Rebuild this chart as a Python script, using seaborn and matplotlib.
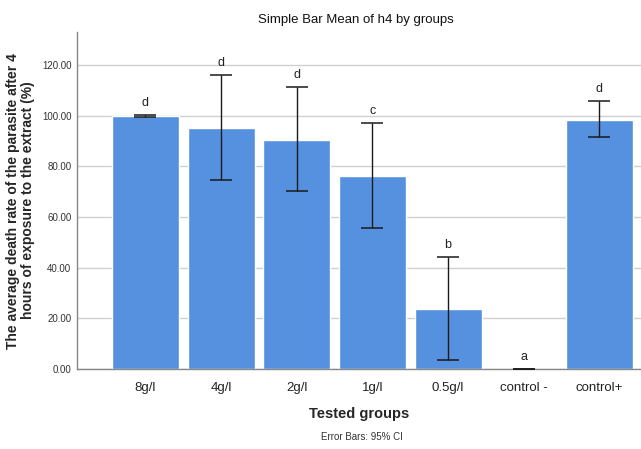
import matplotlib
matplotlib.use("Agg")
import matplotlib.pyplot as plt
import seaborn as sns
import numpy as np
import pandas as pd

groups = ["8g/l", "4g/l", "2g/l", "1g/l", "0.5g/l", "control -", "control+"]
means = [100.0, 95.3, 90.5, 76.2, 23.7, 0.0, 98.4]
ci_low = [99.6, 74.7, 70.3, 55.7, 3.6, 0.0, 91.5]
ci_high = [100.4, 116.2, 111.3, 97.0, 44.2, 0.0, 105.9]
letters = ["d", "d", "d", "c", "b", "a", "d"]
yticks = [0, 20, 40, 60, 80, 100, 120]

sns.set_theme(style="white")
plt.rcParams['font.family'] = ['Liberation Sans', 'DejaVu Sans']

df = pd.DataFrame({"group": groups, "mean": means})

fig = plt.figure(figsize=(6.41, 4.49), dpi=100)
ax = fig.add_axes([0.1201, 0.178, 0.8799, 0.7506])

for y in yticks:
    ax.axhline(y, color="#d0d0d0", lw=1.0, zorder=0)

sns.barplot(data=df, x="group", y="mean", color="#5591de", saturation=1,
            width=0.885, ax=ax, errorbar=None, zorder=2)

xs = np.arange(len(groups))
lo = np.array(means) - np.array(ci_low)
hi = np.array(ci_high) - np.array(means)
ax.errorbar(xs, means, yerr=[lo, hi], fmt="none", ecolor="#1a1a1a",
            elinewidth=1.0, capsize=8, capthick=1.1, zorder=3)
for x, y, t in zip(xs, ci_high, letters):
    ax.text(x, y + 2.4, t, ha="center", va="bottom", fontsize=9, color="#222222")

ax.set_xlim(-0.905, 6.55)
ax.set_ylim(0, 133)
ax.set_yticks(yticks)
ax.set_yticklabels([f"{v:.2f}" for v in yticks], fontsize=7, color="#333333")
ax.tick_params(axis="x", labelsize=9.5, colors="#222222", length=0, pad=9)
ax.tick_params(axis="y", length=0, pad=4)
for s in ["top", "right"]:
    ax.spines[s].set_visible(False)
for s in ["left", "bottom"]:
    ax.spines[s].set_color("#888888")
    ax.spines[s].set_linewidth(1.0)

ax.set_xlabel("Tested groups", fontsize=10.5, fontweight="bold", labelpad=10)
ax.set_ylabel("The average death rate of the parasite after 4\nhours of exposure to the extract (%)",
              fontsize=10, fontweight="bold", labelpad=5, linespacing=1.1)
fig.text(0.555, 0.955, "Simple Bar Mean of h4 by groups", ha="center", va="center",
         fontsize=9.5, color="#111111")
fig.text(0.565, 0.027, "Error Bars: 95% CI", ha="center", va="center",
         fontsize=7, color="#333333")

fig.savefig("out.png", dpi=100)
